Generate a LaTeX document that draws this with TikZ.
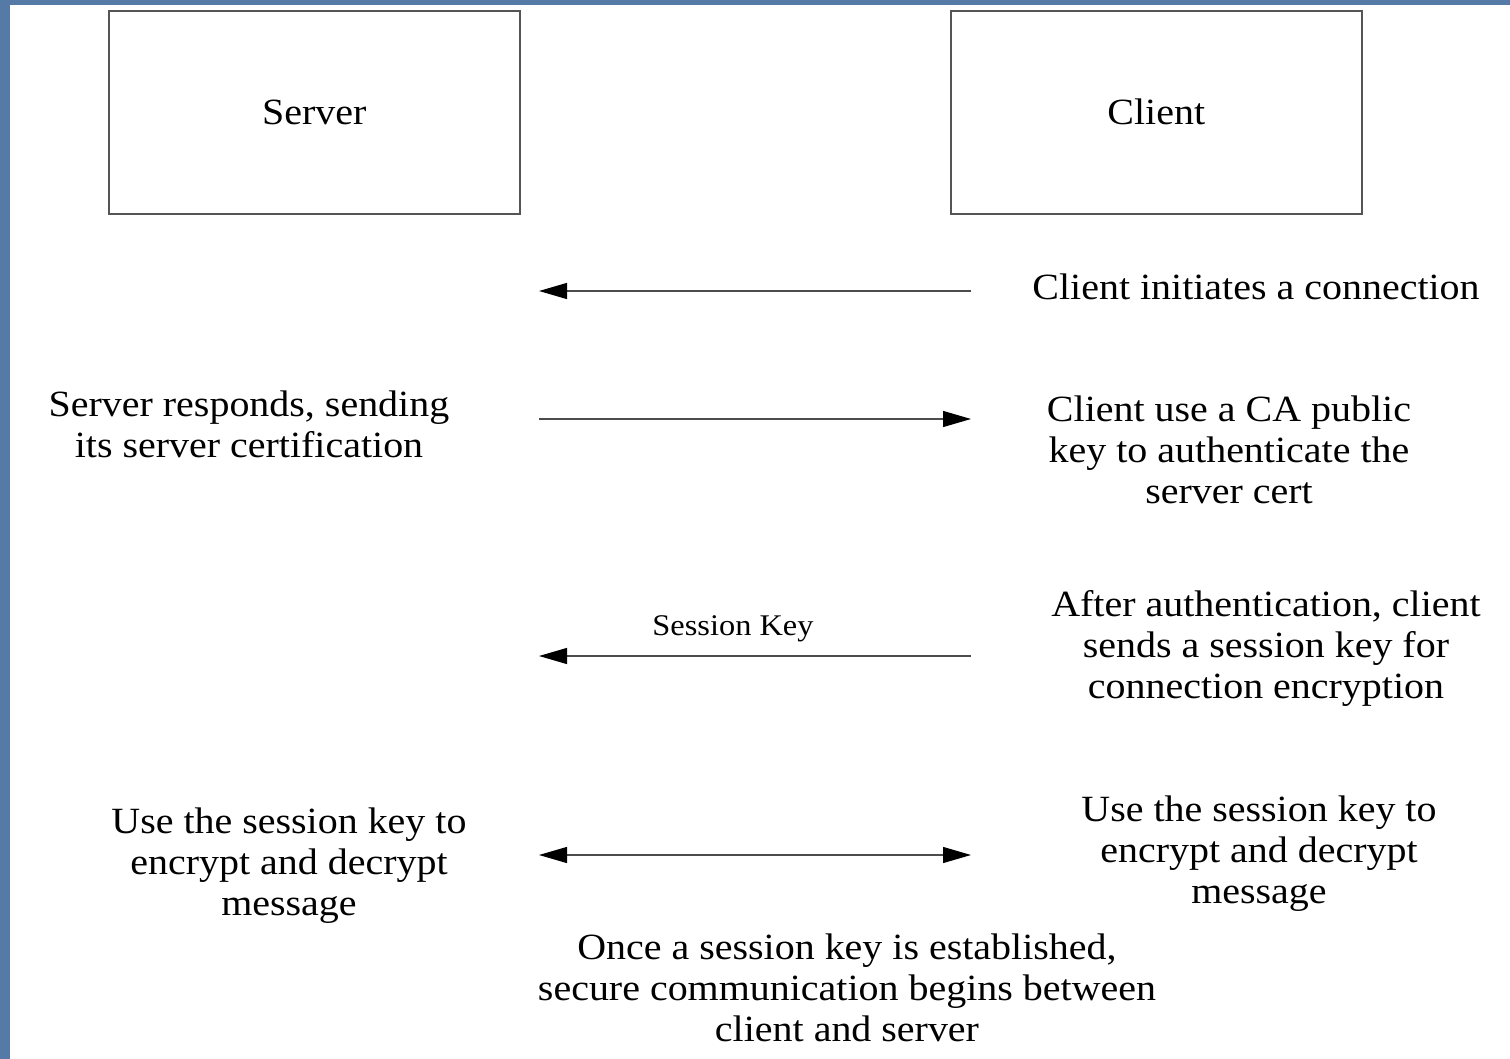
\documentclass[tikz,border=0pt]{standalone}
\usepackage{fontspec}
\setmainfont[FakeStretch=1.08]{Liberation Serif}
\usetikzlibrary{arrows.meta}
\definecolor{frameblue}{HTML}{557AA5}
\definecolor{boxline}{HTML}{555555}
\tikzset{headtip/.tip={Triangle[length=28pt,width=16pt,color=black]}}
\begin{document}
\begin{tikzpicture}[x=1pt,y=-1pt,
  party/.style={draw=boxline,line width=1.6pt,minimum width=411pt,minimum height=203pt,anchor=north west,font=\fontsize{37}{41}\selectfont},
  note/.style={align=center,font=\fontsize{37}{41}\selectfont,inner sep=0pt},
  msg/.style={draw=black!70,line width=1.2pt,-headtip},
  tag/.style={font=\fontsize{30}{34}\selectfont,inner sep=0pt}]
  % page and blue frame
  \fill[frameblue] (0,0) rectangle (1510,1059);
  \fill[white] (10,5) rectangle (1510,1059);
  \useasboundingbox (0,0) rectangle (1510,1059);
  % the two parties
  \node[party] (server) at (108,10) {Server};
  \node[party] (client) at (950,10) {Client};
  % message end points
  \coordinate (c1) at (971,291); \coordinate (s1) at (539,291);
  \coordinate (s2) at (539,419); \coordinate (c2) at (971,419);
  \coordinate (c3) at (971,656); \coordinate (s3) at (539,656);
  \coordinate (s4) at (539,855); \coordinate (c4) at (971,855);
  % messages
  \draw[msg] (c1) -- (s1);
  \draw[msg] (s2) -- (c2);
  \draw[msg] (c3) -- node[tag,above=13pt,xshift=-22pt] (sk) {Session Key} (s3);
  \draw[msg,headtip-headtip] (s4) -- (c4);
  % descriptions
  \node[note] (t1) at (1256,287) {Client initiates a connection};
  \node[note] (t2) at (249,424) {Server responds, sending\\its server certification};
  \node[note] (t3) at (1229,450) {Client use a CA public\\key to authenticate the\\server cert};
  \node[note] (t4) at (1266,648) {After authentication, client\\sends a session key for\\connection encryption};
  \node[note] (t5) at (289,866) {Use the session key to\\encrypt and decrypt\\message};
  \node[note] (t6) at (1259,854) {Use the session key to\\encrypt and decrypt\\message};
  \node[note] (t7) at (847,988) {Once a session key is established,\\secure communication begins between\\client and server};
\end{tikzpicture}
\end{document}
